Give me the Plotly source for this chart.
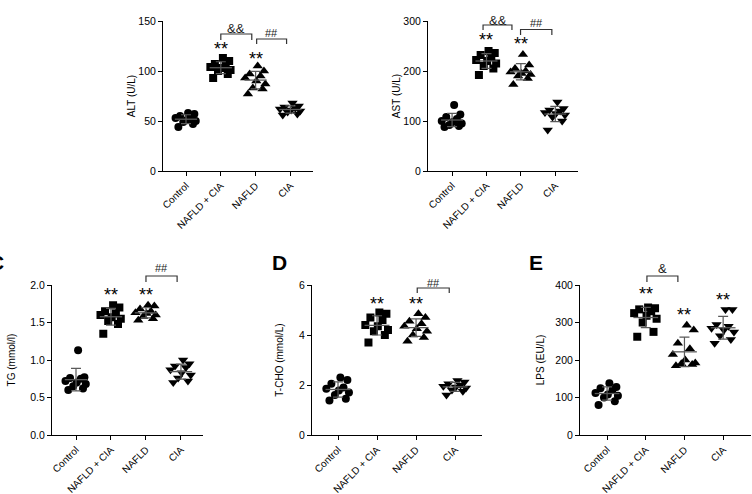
import numpy as np
import plotly.graph_objects as go

groups = ["Control", "NAFLD + CIA", "NAFLD", "CIA"]

alt_control = [44, 47, 49, 50, 51, 53, 54, 55, 57, 58]
alt_nafld_cia = [93, 97, 100, 101, 103, 104, 105, 107, 110, 113]
alt_nafld = [77, 82, 83, 87, 90, 93, 95, 97, 100, 105]
alt_cia = [56, 57, 59, 60, 61, 62, 63, 64, 65, 68]

ast_control = [88, 90, 92, 95, 98, 100, 104, 108, 113, 132]
ast_nafld_cia = [192, 205, 210, 215, 220, 222, 228, 232, 236, 240]
ast_nafld = [173, 185, 190, 193, 195, 198, 200, 205, 212, 233]
ast_cia = [82, 100, 108, 112, 115, 117, 120, 122, 125, 138]

tg_control = [0.60, 0.62, 0.65, 0.68, 0.70, 0.72, 0.75, 0.76, 0.77, 1.13]
tg_nafld_cia = [1.35, 1.48, 1.52, 1.55, 1.57, 1.60, 1.62, 1.65, 1.70, 1.73]
tg_nafld = [1.53, 1.55, 1.58, 1.60, 1.62, 1.63, 1.65, 1.68, 1.72, 1.73]
tg_cia = [0.70, 0.72, 0.76, 0.80, 0.83, 0.87, 0.90, 0.92, 0.95, 1.00]

tcho_control = [1.38, 1.45, 1.60, 1.70, 1.78, 1.85, 1.90, 2.05, 2.20, 2.30]
tcho_nafld_cia = [3.70, 4.00, 4.15, 4.20, 4.35, 4.40, 4.60, 4.70, 4.85, 4.90]
tcho_nafld = [3.75, 3.90, 4.00, 4.15, 4.25, 4.35, 4.45, 4.55, 4.70, 4.85]
tcho_cia = [1.60, 1.75, 1.80, 1.88, 1.92, 1.95, 2.00, 2.05, 2.12, 2.18]

lps_control = [80, 90, 100, 105, 108, 112, 120, 125, 128, 138]
lps_nafld_cia = [262, 275, 300, 310, 318, 325, 330, 335, 338, 340]
lps_nafld = [185, 188, 190, 192, 200, 215, 230, 245, 280, 293]
lps_cia = [245, 255, 265, 275, 280, 285, 290, 295, 335, 335]

y_titles = ["ALT (U/L)", "AST (U/L)", "TG (mmol/l)", "T-CHO (mmol/L)", "LPS (EU/L)"]
y_ticks = [[0, 50, 100, 150], [0, 100, 200, 300], [0, 0.5, 1.0, 1.5, 2.0], [0, 2, 4, 6], [0, 100, 200, 300, 400]]

panels = [
    [alt_control, alt_nafld_cia, alt_nafld, alt_cia],
    [ast_control, ast_nafld_cia, ast_nafld, ast_cia],
    [tg_control, tg_nafld_cia, tg_nafld, tg_cia],
    [tcho_control, tcho_nafld_cia, tcho_nafld, tcho_cia],
    [lps_control, lps_nafld_cia, lps_nafld, lps_cia],
]

# significance marks: (group index, y value)
stars = [
    [(1, 122), (2, 112)],
    [(1, 262), (2, 254)],
    [(1, 1.87), (2, 1.87)],
    [(1, 5.25), (2, 5.25)],
    [(1, 376), (2, 320), (3, 360)],
]
# brackets: (x0, x1, y_top, y_bottom, label, label_y)
brackets = [
    [(1.0, 1.89, 137, 131, "&&", 143), (2.03, 2.89, 132, 127, "##", 138)],
    [(0.9, 1.74, 292, 282, "&&", 302), (1.99, 2.9, 283, 272, "##", 296)],
    [(2.0, 2.89, 2.12, 2.04, "##", 2.23)],
    [(2.03, 2.85, 5.88, 5.68, "##", 6.1)],
    [(1.03, 1.83, 424, 408, "&", 443)],
]

# ---- layout / style constants ----
W, H = 752, 494
FONT = "Liberation Sans, Arial, sans-serif"
x_px = [(163, 313), (428, 578), (52, 203), (312, 482), (580, 751)]
y_px = [(21, 171), (21, 171), (285, 435), (285, 435), (285, 435)]
x_ranges = [[-0.661, 3.649], [-0.70, 3.66], [-0.686, 3.63], [-0.667, 3.69], [-0.70, 3.72]]
title_standoff = [0, 0, 12, 13, 8]
jitter = [-0.22, 0.2, -0.08, 0.28, 0.02, -0.3, 0.14, -0.17, 0.24, 0.06]
symbols = ["circle", "square", "triangle-up", "triangle-down"]
sizes = [8, 8, 9, 9]
panel_letters = [("C", 6, 262, "right"), ("D", 270, 262, "left"), ("E", 527, 262, "left")]

fig = go.Figure()
layout = dict(
    template="none",
    width=W, height=H, margin=dict(l=0, r=0, t=0, b=0, autoexpand=False),
    paper_bgcolor="white", plot_bgcolor="white", showlegend=False,
    font=dict(family=FONT, color="black", size=10),
)
annotations = []
shapes = []

for p, data in enumerate(panels):
    sfx = "" if p == 0 else str(p + 1)
    xa, ya = "x" + sfx, "y" + sfx
    ymax = y_ticks[p][-1]
    for g, vals in enumerate(data):
        vals = np.array(vals, dtype=float)
        order = np.argsort(vals)
        xs = np.empty(len(vals))
        xs[order] = g + np.array(jitter[:len(vals)])
        fig.add_trace(go.Scatter(
            x=xs, y=vals, mode="markers", xaxis=xa, yaxis=ya, cliponaxis=False,
            marker=dict(symbol=symbols[g], size=sizes[g], color="black",
                        line=dict(width=0)),
            hoverinfo="skip"))
        m = vals.mean()
        sd = vals.std(ddof=1)
        fig.add_trace(go.Scatter(
            x=[g - 0.32, g + 0.32], y=[m, m], mode="lines", xaxis=xa, yaxis=ya,
            line=dict(color="#5a5a5a", width=1.3), hoverinfo="skip"))
        fig.add_trace(go.Scatter(
            x=[g], y=[m], mode="markers", xaxis=xa, yaxis=ya,
            marker=dict(size=1, color="rgba(0,0,0,0)"),
            error_y=dict(type="data", array=[sd], color="#5a5a5a", thickness=1.2, width=5),
            hoverinfo="skip"))
    for g, yv in stars[p]:
        annotations.append(dict(x=g, y=yv, xref=xa, yref=ya, text="**", showarrow=False,
                                font=dict(size=18, family=FONT), yanchor="middle", xanchor="center"))
    for (x0, x1, yt, yb, lab, ly) in brackets[p]:
        dt, db = yt / ymax, yb / ymax
        shapes.append(dict(type="path", xref=xa, yref=ya + " domain",
                           path=f"M{x0},{db} L{x0},{dt} L{x1},{dt} L{x1},{db}",
                           line=dict(color="#333", width=1.2)))
        fs = 13 if "&" in lab else 11
        annotations.append(dict(x=(x0 + x1) / 2, y=ly / ymax, xref=xa, yref=ya + " domain",
                                text=lab, showarrow=False, font=dict(size=fs, family=FONT, color="#222"),
                                yanchor="middle", xanchor="center"))
    xd = [x_px[p][0] / W, x_px[p][1] / W]
    yd = [1 - y_px[p][1] / H, 1 - y_px[p][0] / H]
    layout["xaxis" + sfx] = dict(
        domain=xd, range=x_ranges[p], anchor=ya, tickmode="array", automargin=False,
        tickvals=list(range(len(groups))), ticktext=groups, tickangle=-45,
        showline=True, linecolor="black", linewidth=1, ticks="outside", ticklen=4,
        tickcolor="black", showgrid=False, zeroline=False, tickfont=dict(size=10, family=FONT))
    layout["yaxis" + sfx] = dict(
        domain=yd, range=[0, ymax], anchor=xa, tickmode="array", tickvals=y_ticks[p],
        tickformat=".1f" if p == 2 else "d", automargin=False,
        showline=True, linecolor="black", linewidth=1, ticks="outside", ticklen=4,
        tickcolor="black", showgrid=False, zeroline=False, tickfont=dict(size=10.5, family=FONT),
        title=dict(text=y_titles[p], font=dict(size=10, family=FONT), standoff=title_standoff[p]))

for letter, px, py, anc in panel_letters:
    annotations.append(dict(x=px / W, y=1 - py / H, xref="paper", yref="paper", text=f"<b>{letter}</b>",
                            showarrow=False, font=dict(size=21, family=FONT), xanchor=anc, yanchor="middle"))

layout["annotations"] = annotations
layout["shapes"] = shapes
fig.update_layout(**layout)
fig.write_html("out.html", config={"displayModeBar": False},
               post_script="document.body.style.margin='0px';document.body.style.overflow='hidden';")
